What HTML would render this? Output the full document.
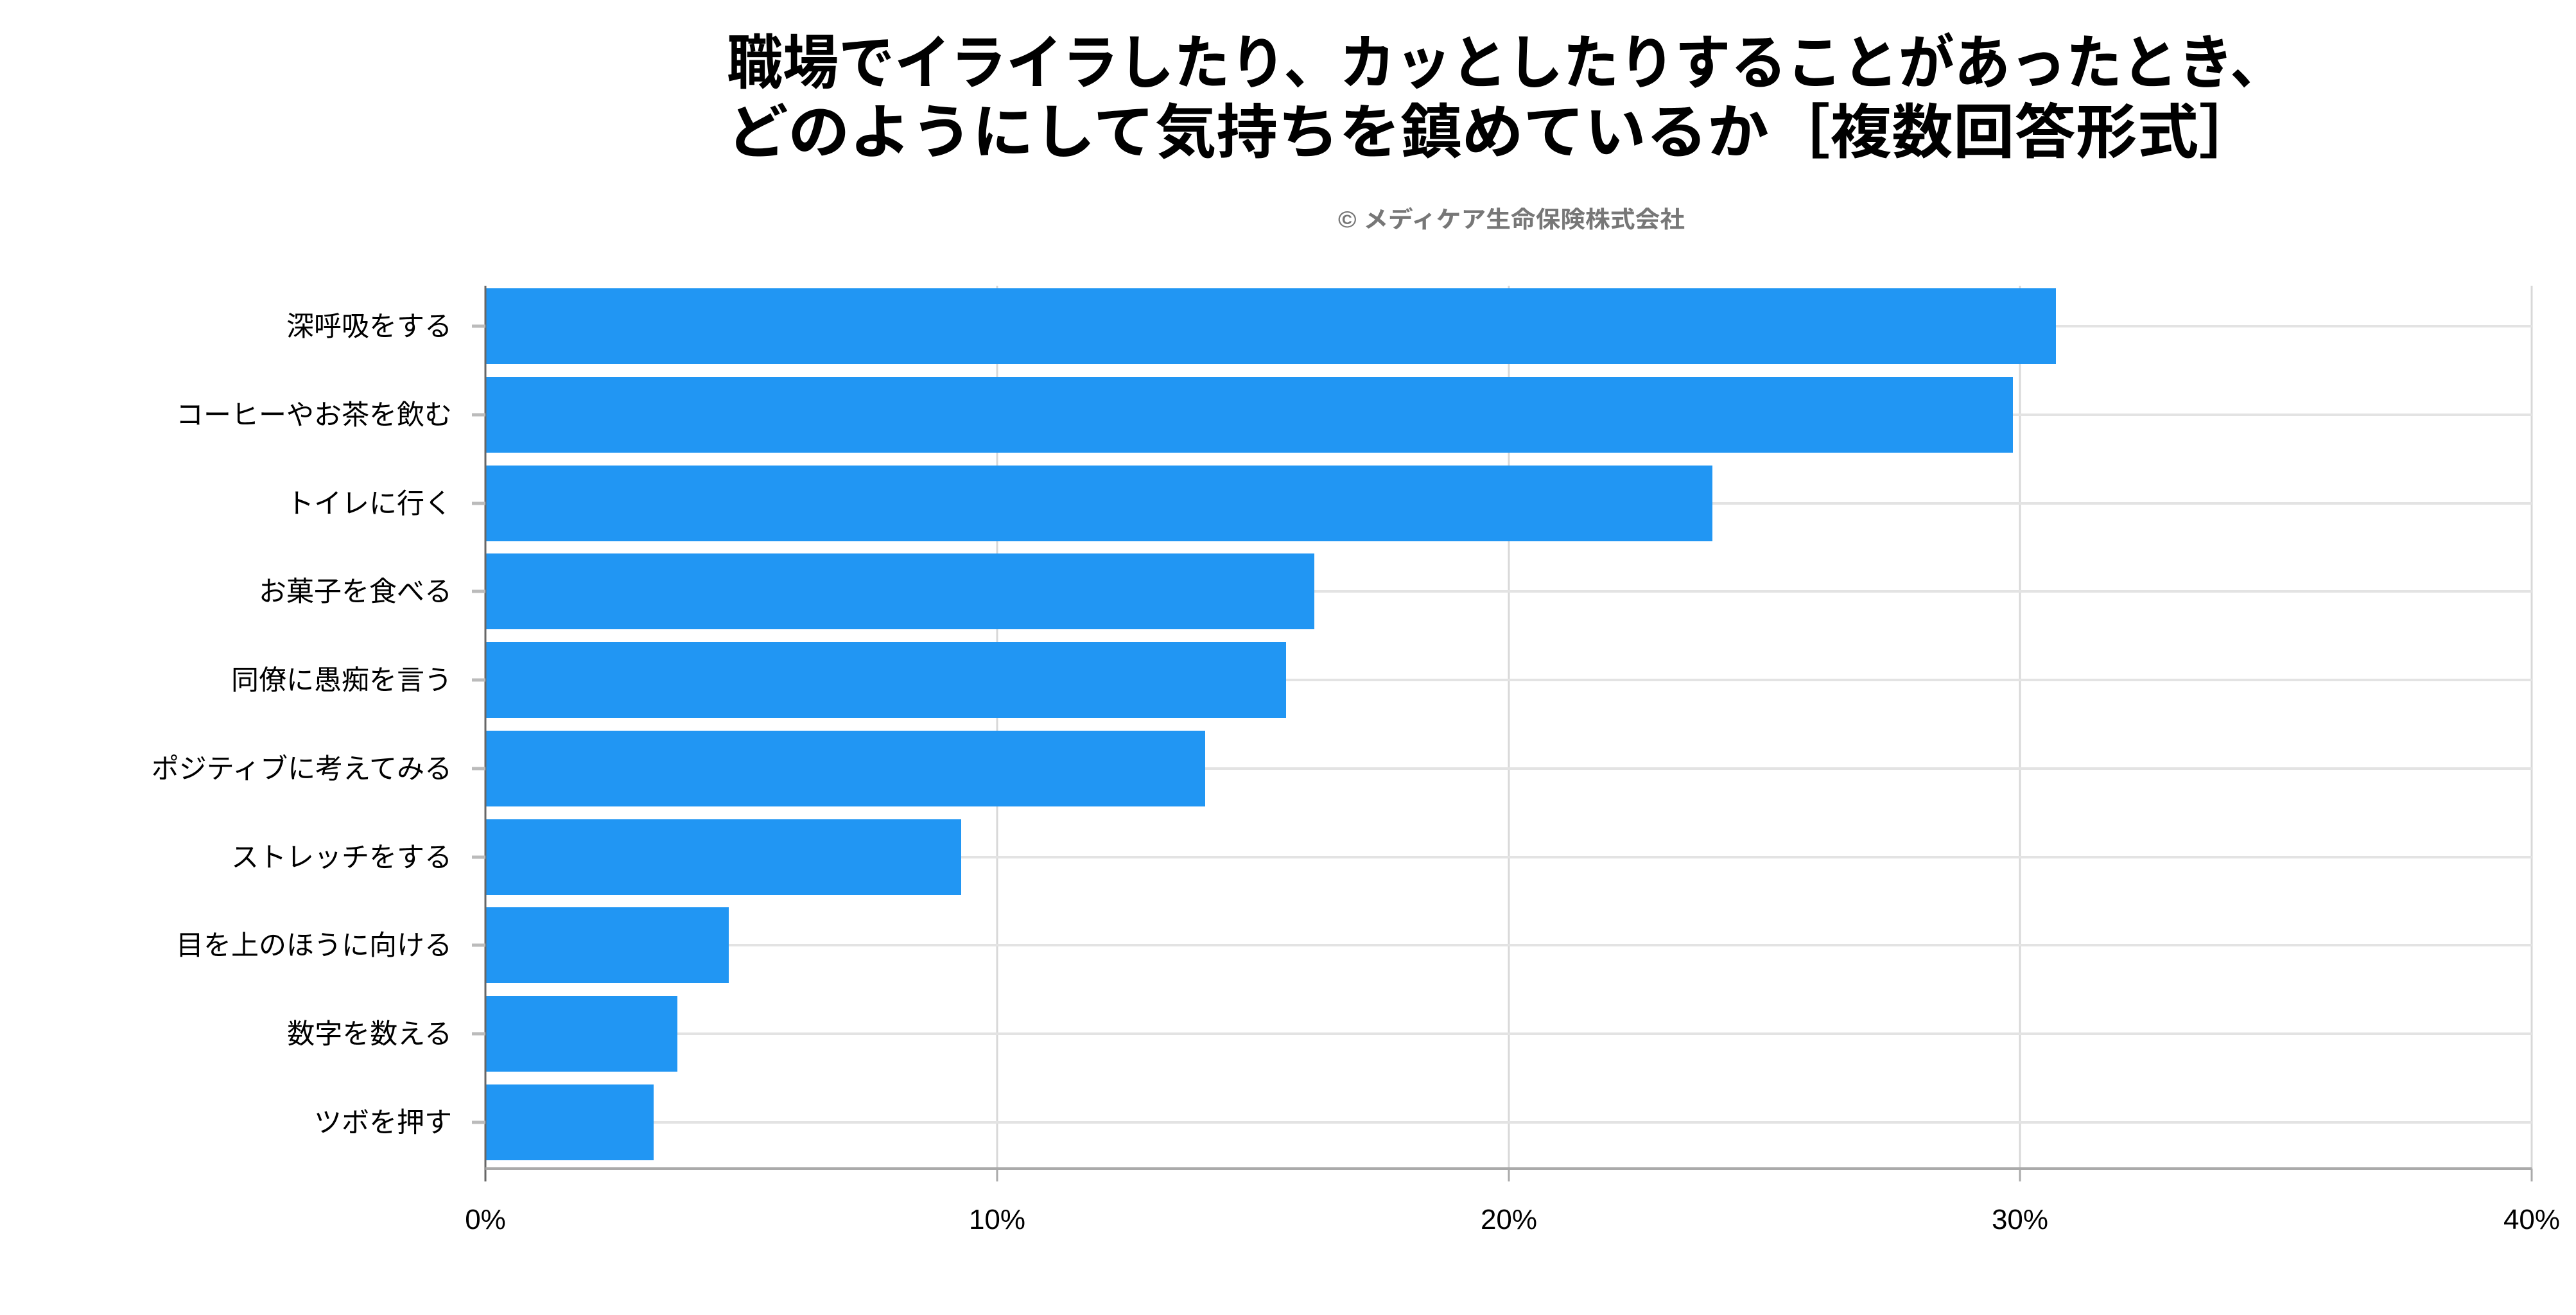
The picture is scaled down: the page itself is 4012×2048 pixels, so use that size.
<!DOCTYPE html>
<html><head><meta charset="utf-8"><style>
html,body{margin:0;padding:0;background:#fff;}
svg{display:block;}
text{font-family:"Liberation Sans","Noto Sans CJK JP",sans-serif;}
</style></head><body>
<svg width="4012" height="2048" viewBox="0 0 4012 2048" xmlns="http://www.w3.org/2000/svg">
<rect width="4012" height="2048" fill="#fff"/>
<text x="1132" y="130" font-size="92" font-weight="bold" textLength="2428" lengthAdjust="spacingAndGlyphs">職場でイライラしたり、カッとしたりすることがあったとき、</text>
<text x="1132" y="238" font-size="92" font-weight="bold" textLength="2388" lengthAdjust="spacingAndGlyphs">どのようにして気持ちを鎮めているか［複数回答形式］</text>
<text x="2084" y="354" font-size="36" font-weight="bold" fill="#777" textLength="540" lengthAdjust="spacingAndGlyphs">© メディケア生命保険株式会社</text>
<g stroke="#d8d8d8" stroke-width="3">
<line x1="1553" y1="445" x2="1553" y2="1820"/>
<line x1="2350" y1="445" x2="2350" y2="1820"/>
<line x1="3146" y1="445" x2="3146" y2="1820"/>
<line x1="3943" y1="445" x2="3943" y2="1820"/>
</g>
<g stroke="#e3e3e3" stroke-width="4">
<line x1="756" y1="508" x2="3943" y2="508"/>
<line x1="756" y1="646" x2="3943" y2="646"/>
<line x1="756" y1="784" x2="3943" y2="784"/>
<line x1="756" y1="921" x2="3943" y2="921"/>
<line x1="756" y1="1059" x2="3943" y2="1059"/>
<line x1="756" y1="1197" x2="3943" y2="1197"/>
<line x1="756" y1="1335" x2="3943" y2="1335"/>
<line x1="756" y1="1472" x2="3943" y2="1472"/>
<line x1="756" y1="1610" x2="3943" y2="1610"/>
<line x1="756" y1="1748" x2="3943" y2="1748"/>
</g>
<g fill="#2196f3">
<rect x="756" y="449" width="2446" height="118"/>
<rect x="756" y="587" width="2379" height="118"/>
<rect x="756" y="725" width="1911" height="118"/>
<rect x="756" y="862" width="1291" height="118"/>
<rect x="756" y="1000" width="1247" height="118"/>
<rect x="756" y="1138" width="1121" height="118"/>
<rect x="756" y="1276" width="741" height="118"/>
<rect x="756" y="1413" width="379" height="118"/>
<rect x="756" y="1551" width="299" height="118"/>
<rect x="756" y="1689" width="262" height="118"/>
</g>
<line x1="756" y1="445" x2="756" y2="1840" stroke="#666" stroke-width="3"/>
<line x1="756" y1="1820" x2="3943" y2="1820" stroke="#aaa" stroke-width="4"/>
<g stroke="#aaa" stroke-width="3">
<line x1="1553" y1="1820" x2="1553" y2="1840"/><line x1="2350" y1="1820" x2="2350" y2="1840"/>
<line x1="3146" y1="1820" x2="3146" y2="1840"/><line x1="3943" y1="1820" x2="3943" y2="1840"/>
</g>
<g stroke="#bbb" stroke-width="5">
<line x1="735" y1="508" x2="756" y2="508"/><line x1="735" y1="646" x2="756" y2="646"/>
<line x1="735" y1="784" x2="756" y2="784"/><line x1="735" y1="921" x2="756" y2="921"/>
<line x1="735" y1="1059" x2="756" y2="1059"/><line x1="735" y1="1197" x2="756" y2="1197"/>
<line x1="735" y1="1335" x2="756" y2="1335"/><line x1="735" y1="1472" x2="756" y2="1472"/>
<line x1="735" y1="1610" x2="756" y2="1610"/><line x1="735" y1="1748" x2="756" y2="1748"/>
</g>
<g font-size="43" text-anchor="end" fill="#000">
<text x="704" y="523">深呼吸をする</text>
<text x="704" y="661">コーヒーやお茶を飲む</text>
<text x="704" y="799">トイレに行く</text>
<text x="704" y="936">お菓子を食べる</text>
<text x="704" y="1074">同僚に愚痴を言う</text>
<text x="704" y="1212">ポジティブに考えてみる</text>
<text x="704" y="1350">ストレッチをする</text>
<text x="704" y="1487">目を上のほうに向ける</text>
<text x="704" y="1625">数字を数える</text>
<text x="704" y="1763">ツボを押す</text>
</g>
<g font-size="44" text-anchor="middle" fill="#000">
<text x="756" y="1914">0%</text>
<text x="1553" y="1914">10%</text>
<text x="2350" y="1914">20%</text>
<text x="3146" y="1914">30%</text>
<text x="3943" y="1914">40%</text>
</g>
</svg>
</body></html>
